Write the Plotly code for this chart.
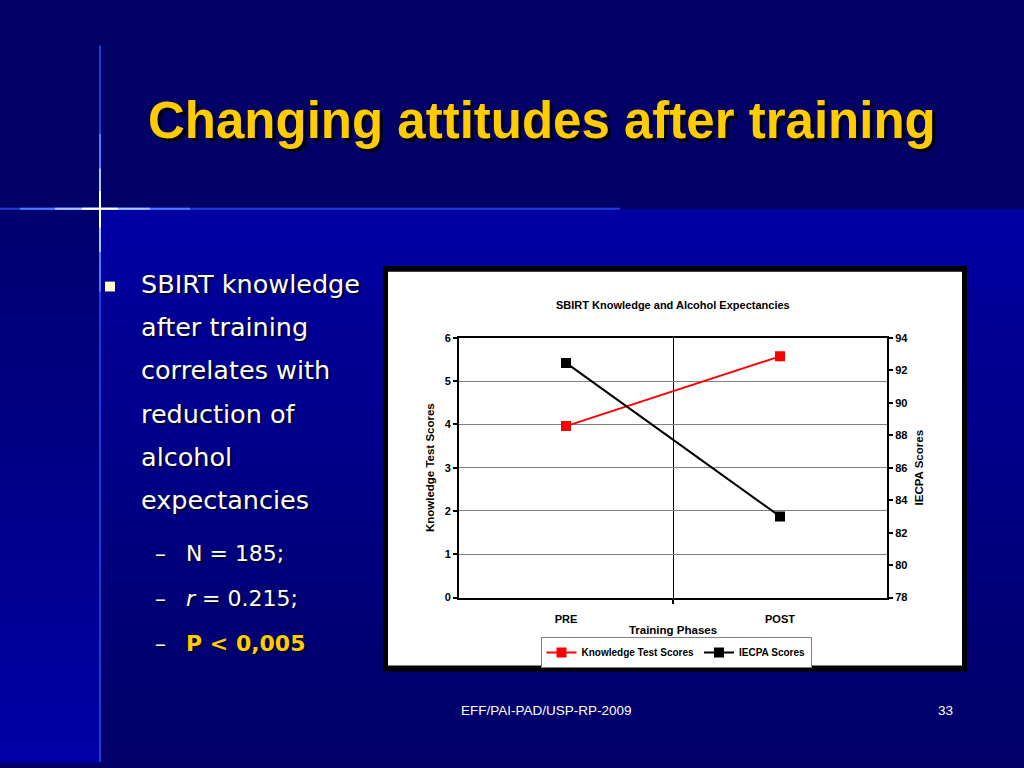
import plotly.graph_objects as go

# data
phases = ["PRE", "POST"]
knowledge = [3.96, 5.57]
iecpa = [92.45, 83.0]

bullet_lines = ["SBIRT knowledge", "after training", "correlates with",
                "reduction of", "alcohol", "expectancies"]
sub_lines = ["N = 185;", "<i>r</i> = 0.215;", "<b>P &lt; 0,005</b>"]

W, H = 1024, 768
SANS = "Liberation Sans, Arial"
BODY = "DejaVu Sans, Verdana"


def px(x):
    return x / W


def py(y):
    return 1 - y / H


def blend(c1, c2, t):
    return "rgb(%d,%d,%d)" % tuple(round(a + (b - a) * t) for a, b in zip(c1, c2))


fig = go.Figure()
fig.add_trace(go.Scatter(x=[0, 1], y=knowledge, name="Knowledge Test Scores",
                         mode="lines+markers",
                         line=dict(color="#ff0000", width=2),
                         marker=dict(symbol="square", size=10, color="#ff0000")))
fig.add_trace(go.Scatter(x=[0, 1], y=iecpa, name="IECPA Scores", yaxis="y2",
                         mode="lines+markers",
                         line=dict(color="#000000", width=2),
                         marker=dict(symbol="square", size=10, color="#000000")))

shapes = []
# slide background bands
n = 28
for i in range(n):
    y0 = 206 + (768 - 206) * i / n
    y1 = 206 + (768 - 206) * (i + 1) / n + 1
    t = i / (n - 1)
    shapes.append(dict(type="rect", xref="paper", yref="paper", layer="below",
                       x0=px(100), x1=1, y0=py(y1), y1=py(y0), line_width=0,
                       fillcolor=blend((0, 0, 162), (0, 0, 104), t)))
    shapes.append(dict(type="rect", xref="paper", yref="paper", layer="below",
                       x0=0, x1=px(100), y0=py(y1), y1=py(y0), line_width=0,
                       fillcolor=blend((0, 0, 112), (0, 0, 164), t)))
shapes.append(dict(type="rect", xref="paper", yref="paper", layer="below",
                   x0=0, x1=1, y0=py(206), y1=1, line_width=0, fillcolor="#000066"))

# glowing cross
for (a, b, col) in [(0, 620, "#1c3fd8"), (20, 190, "#4a7cff"), (55, 150, "#a8c4ff"), (82, 118, "#ffffff")]:
    shapes.append(dict(type="line", xref="paper", yref="paper", layer="below",
                       x0=px(a), x1=px(b), y0=py(206), y1=py(206),
                       line=dict(color=col, width=2)))
for (a, b, col) in [(40, 768, "#1c3fd8"), (130, 290, "#4a7cff"), (165, 250, "#a8c4ff"), (188, 225, "#ffffff")]:
    shapes.append(dict(type="line", xref="paper", yref="paper", layer="below",
                       x0=px(100), x1=px(100), y0=py(a), y1=py(b),
                       line=dict(color=col, width=2)))

# chart frame
shapes.append(dict(type="rect", xref="paper", yref="paper", layer="below",
                   x0=px(383), x1=px(967), y0=py(676), y1=py(264),
                   fillcolor="#000000", line_width=0))
shapes.append(dict(type="rect", xref="paper", yref="paper", layer="below",
                   x0=px(388), x1=px(962), y0=py(670), y1=py(270),
                   fillcolor="#ffffff", line_width=0))

# bullet square
shapes.append(dict(type="rect", xref="paper", yref="paper",
                   x0=px(105), x1=px(115), y0=py(290), y1=py(280),
                   fillcolor="#ffffcc", line_width=0))

annotations = []
annotations.append(dict(text="<b>Changing attitudes after training</b>",
                        x=px(542), y=py(116), xref="paper", yref="paper",
                        showarrow=False, xanchor="center", yanchor="middle",
                        font=dict(family=SANS, size=51, color="#ffcc00",
                                  shadow="3px 3px 1px #000000")))

for i, line in enumerate(bullet_lines):
    annotations.append(dict(text=line, x=px(139), y=py(282 + 44 * i),
                            xref="paper", yref="paper", showarrow=False,
                            xanchor="left", yanchor="middle",
                            font=dict(family=BODY, size=25.5, color="#ffffff",
                                      shadow="2px 2px 1px #000033")))

for i, line in enumerate(sub_lines):
    yy = 556 + 46 * i
    col = "#ffcc00" if i == 2 else "#ffffff"
    annotations.append(dict(text="–", x=px(153), y=py(yy), xref="paper", yref="paper",
                            showarrow=False, xanchor="left", yanchor="middle",
                            font=dict(family=BODY, size=22, color="#ffffff",
                                      shadow="2px 2px 1px #000033")))
    annotations.append(dict(text=line, x=px(184), y=py(yy), xref="paper", yref="paper",
                            showarrow=False, xanchor="left", yanchor="middle",
                            font=dict(family=BODY, size=22, color=col,
                                      shadow="2px 2px 1px #000033")))

annotations.append(dict(text="<b>SBIRT Knowledge and Alcohol Expectancies</b>",
                        x=px(673), y=py(304), xref="paper", yref="paper",
                        showarrow=False, xanchor="center", yanchor="middle",
                        font=dict(family=SANS, size=11, color="#000000")))

annotations.append(dict(text="EFF/PAI-PAD/USP-RP-2009", x=px(546), y=py(716),
                        xref="paper", yref="paper", showarrow=False,
                        xanchor="center", yanchor="middle",
                        font=dict(family=SANS, size=13.5, color="#ffffff")))
annotations.append(dict(text="33", x=px(945), y=py(716),
                        xref="paper", yref="paper", showarrow=False,
                        xanchor="center", yanchor="middle",
                        font=dict(family=SANS, size=13.5, color="#ffffff")))

tick_font = dict(family=SANS, size=11, color="#000000", weight="bold")
title_font = dict(family=SANS, size=11.5, color="#000000", weight="bold")

fig.update_layout(
    width=W, height=H,
    margin=dict(l=0, r=0, t=0, b=0),
    paper_bgcolor="#000066",
    plot_bgcolor="#ffffff",
    shapes=shapes,
    annotations=annotations,
    showlegend=True,
    legend=dict(orientation="h", x=px(676), y=py(641), xanchor="center", yanchor="top",
                bgcolor="#ffffff", bordercolor="#808080", borderwidth=1,
                font=dict(family=SANS, size=10, color="#000000", weight="bold"),
                itemwidth=30, tracegroupgap=0),
    xaxis=dict(domain=[px(459), px(887)], range=[-0.5, 1.5],
               tickmode="array", tickvals=[0, 1], ticktext=phases, ticks="",
               ticklabelstandoff=10,
               showgrid=False, zeroline=False,
               showline=True, linecolor="#000000", linewidth=2, mirror=True,
               tickfont=tick_font,
               title=dict(text="Training Phases", font=title_font, standoff=2),
               minor=dict(tickmode="array", tickvals=[0.5], ticks="outside",
                          ticklen=4, tickcolor="#000000", tickwidth=1.5,
                          showgrid=True, gridcolor="#000000", gridwidth=1)),
    yaxis=dict(domain=[py(601), py(337)], range=[0, 6], dtick=1,
               showgrid=True, gridcolor="#808080", gridwidth=1, zeroline=False,
               showline=True, linecolor="#000000", linewidth=2,
               ticks="outside", ticklen=4, tickcolor="#000000", tickwidth=1.5,
               tickfont=tick_font,
               title=dict(text="Knowledge Test Scores", font=title_font, standoff=8)),
    yaxis2=dict(overlaying="y", side="right", range=[78, 94], dtick=2,
                showgrid=False, zeroline=False,
                showline=True, linecolor="#000000", linewidth=2,
                ticks="outside", ticklen=4, tickcolor="#000000", tickwidth=1.5,
                tickfont=tick_font,
                title=dict(text="IECPA Scores", font=title_font, standoff=8)),
)

# drop the browser's default page margin so the slide sits at the top-left corner
fig.write_html("out.html", config={"displayModeBar": False},
               post_script="document.body.style.margin='0';document.body.style.overflow='hidden';")
